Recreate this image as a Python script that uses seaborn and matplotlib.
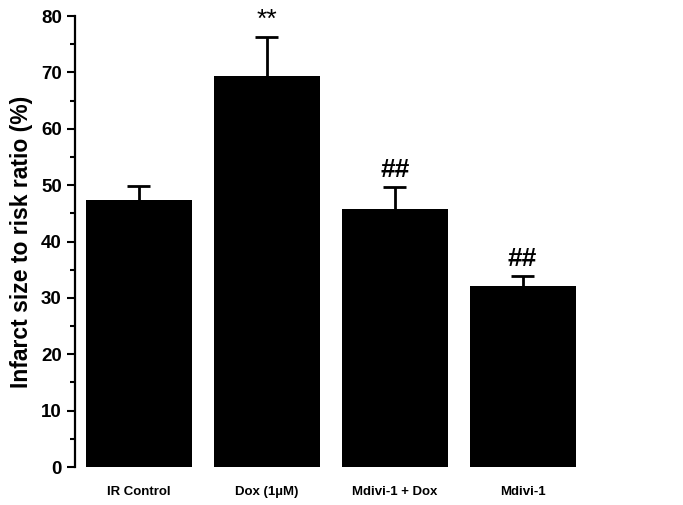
import matplotlib
matplotlib.use("Agg")
import matplotlib.pyplot as plt
import seaborn as sns
import pandas as pd
from matplotlib.ticker import MultipleLocator

groups = ["IR Control", "Dox (1µM)", "Mdivi-1 + Dox", "Mdivi-1"]
means = [47.4, 69.4, 45.8, 32.2]
errors = [2.4, 6.8, 3.8, 1.6]
marks = ["", "**", "##", "##"]

sns.set_style("ticks", {"text.color": "black", "axes.labelcolor": "black",
                        "xtick.color": "black", "ytick.color": "black",
                        "axes.edgecolor": "black"})
plt.rcParams["font.family"] = ["Liberation Sans", "DejaVu Sans"]

df = pd.DataFrame({"group": groups, "value": means})
tops = [m + e for m, e in zip(means, errors)]
xs = list(range(len(groups)))

fig = plt.figure(figsize=(6.83, 5.05), dpi=100)
ax = fig.add_axes([0.1098, 0.0752, 0.749, 0.893])

sns.barplot(data=df, x="group", y="value", color="black", width=0.83,
            saturation=1, errorbar=None, linewidth=0, ax=ax)

# upper error bars only, as in the original figure
ax.vlines(xs, means, tops, color="black", linewidth=2)
ax.hlines(tops, [x - 0.09 for x in xs], [x + 0.09 for x in xs],
          color="black", linewidth=2)

for i, (t, s) in enumerate(zip(tops, marks)):
    if s:
        ax.text(i, t + 1.0, s, ha="center", va="bottom", fontsize=19,
                color="black", fontweight="bold" if s == "##" else "normal")

ax.set_xlim(-0.5, 3.5)
ax.set_ylim(0, 80)
ax.yaxis.set_major_locator(MultipleLocator(10))
ax.yaxis.set_minor_locator(MultipleLocator(5))
ax.tick_params(axis="y", which="major", length=6, width=1.5, labelsize=13.5)
ax.tick_params(axis="y", which="minor", length=3.5, width=1.5)
ax.tick_params(axis="x", length=0, labelsize=9.5, pad=14)
for lab in ax.get_xticklabels() + ax.get_yticklabels():
    lab.set_fontweight("bold")

sns.despine(ax=ax, bottom=True)
ax.spines["left"].set_linewidth(1.6)
ax.set_xlabel("")
ax.set_ylabel("Infarct size to risk ratio (%)", fontsize=16.5,
              fontweight="bold", labelpad=6)

fig.savefig("out.png", dpi=100)
